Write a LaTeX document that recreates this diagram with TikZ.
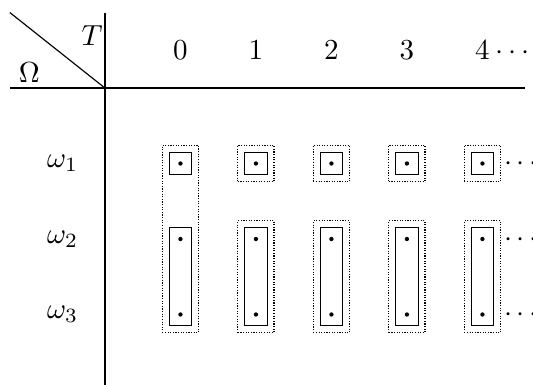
\documentclass[tikz,border=0pt]{standalone}
\usepackage{amsmath,amssymb}
\usepackage{tikz}
\usetikzlibrary{positioning,fit}
\tikzset{
    pt/.style={circle,fill,inner sep=0pt,minimum size=1.5pt},
    inbox/.style={draw,thin,inner sep=2.9pt},
    outbox/.style={draw,dash pattern=on 0.4pt off 0.5pt,inner sep=5.3pt},
    more/.style={inner sep=0pt,anchor=base west},
}

\begin{document}
\begin{tikzpicture}[x=0.915cm,y=0.915cm]
    \useasboundingbox (-1.39,-3.93) rectangle (5.67,1.166);

    % Draw table rules
    \coordinate (o) at (0,0);
    \coordinate (top) at (0,1);
    \coordinate (bot) at (0,-3.93);
    \coordinate (lft) at (-1.26,0);
    \coordinate (rgt) at (5.56,0);
    \coordinate (crn) at (-1.26,1);
    \draw (top) -- (bot);
    \draw (lft) -- (rgt);
    \draw (crn) -- (o);

    % Corner labels
    \node (T) at (-0.17,0.70) {$T$};
    \node (Om) at (-1.0,0.21) {$\Omega$};

    % Time labels
    \foreach \t in {0,...,4}
        \node (t\t) at (\t+1,0.5) {$\t$};
    \node[more] (tdots) at ([xshift=-1.6pt]t4.base east) {$\cdots$};

    % State labels
    \foreach \w in {1,2,3}
        \node (w\w) at (-0.56,-\w) {$\omega_\w$};

    % Draw points and partitions
    \foreach \t in {0,...,4} {
        \foreach \w in {1,2,3}
            \node[pt] (p\t\w) at (\t+1,-\w) {};
        \node[inbox,fit=(p\t1)] (a\t) {};
        \node[inbox,fit=(p\t2)(p\t3)] (b\t) {};
    }
    \node[outbox,fit=(p01)(p03)] (A0) {};
    \foreach \t in {1,...,4} {
        \node[outbox,fit=(p\t1)] (A\t) {};
        \node[outbox,fit=(p\t2)(p\t3)] (B\t) {};
    }

    % Dots for later times
    \node[more] (r1) at ([xshift=0.8pt,yshift=-2.5pt]A4.east|-p41) {$\cdots$};
    \node[more] (r2) at ([xshift=0.8pt,yshift=-2.5pt]B4.east|-p42) {$\cdots$};
    \node[more] (r3) at ([xshift=0.8pt,yshift=-2.5pt]B4.east|-p43) {$\cdots$};
\end{tikzpicture}
\end{document}
